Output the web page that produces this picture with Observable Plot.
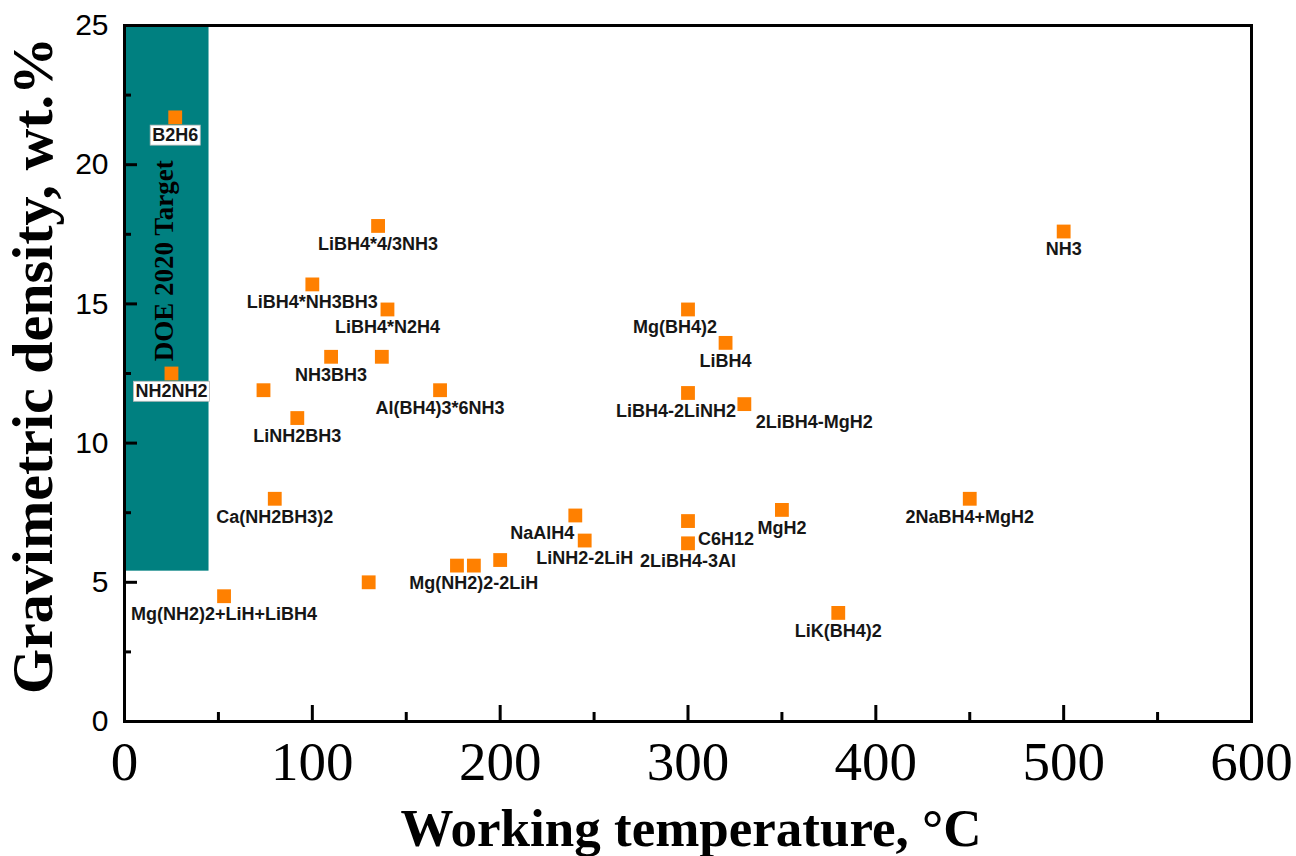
<!DOCTYPE html>
<html>
<head>
<meta charset="utf-8">
<script src="https://cdn.jsdelivr.net/npm/d3@7"></script>
<script src="https://cdn.jsdelivr.net/npm/@observablehq/plot@0.6"></script>
<style>
  html, body { margin: 0; padding: 0; background: #fff; }
  #chart svg { display: block; }
</style>
</head>
<body>
<div id="chart"></div>
<script>
// ---- Data ----
const names = [
  "B2H6", "NH2NH2", "LiBH4*4/3NH3", "LiBH4*NH3BH3", "LiBH4*N2H4", "NH3BH3", "",
  "Al(BH4)3*6NH3", "", "LiNH2BH3", "Ca(NH2BH3)2", "Mg(NH2)2+LiH+LiBH4",
  "", "", "Mg(NH2)2-2LiH", "", "NaAlH4", "LiNH2-2LiH", "C6H12", "2LiBH4-3Al",
  "MgH2", "LiK(BH4)2", "2NaBH4+MgH2", "NH3", "Mg(BH4)2", "LiBH4",
  "LiBH4-2LiNH2", "2LiBH4-MgH2"
];
const temps = [
  27, 25, 135, 100, 140, 110, 137,
  168, 74, 92, 80, 53,
  130, 177, 186, 200, 240, 245, 300, 300,
  350, 380, 450, 500, 300, 320,
  300, 330
];
const densities = [
  21.7, 12.5, 17.8, 15.7, 14.8, 13.1, 13.1,
  11.9, 11.9, 10.9, 8.0, 4.5,
  5.0, 5.6, 5.6, 5.8, 7.4, 6.5, 7.2, 6.4,
  7.6, 3.9, 8.0, 17.6, 14.8, 13.6,
  11.8, 11.4
];
const boxedNames = ["B2H6", "NH2NH2"];

const xTicksMajor = [0, 100, 200, 300, 400, 500, 600];
const xTicksMinor = [50, 150, 250, 350, 450, 550];
const yTicksMajor = [0, 5, 10, 15, 20, 25];
const yTicksMinor = [2.5, 7.5, 12.5, 17.5, 22.5];

const doeTarget = [{tempMin: 0, tempMax: 45, densityMin: 5.4, densityMax: 25,
                    labelTemp: 21, labelDensity: 16.55, label: "DOE 2020 Target"}];

const xTitle = "Working temperature, °C";
const yTitle = "Gravimetric density, wt.%";

// ---- Layout / style (not data) ----
const labelShiftX = {"NaAlH4": -33, "C6H12": 38, "Mg(BH4)2": -13, "LiBH4-2LiNH2": -12, "2LiBH4-MgH2": 70};
const W = 1296, H = 856, mL = 124, mR = 45, mT = 25, mB = 135;
const innerW = W - mL - mR, innerH = H - mT - mB;
const serif = "Liberation Serif, Times New Roman, serif";
const sans = "Liberation Sans, Arial, sans-serif";

const points = names.map((n, i) => ({name: n, temp: temps[i], density: densities[i]}));

const labelMarks = points.filter(d => d.name).map(d =>
  Plot.text([d], {
    x: "temp", y: "density", text: "name",
    dx: labelShiftX[d.name] || 0, dy: 18,
    fontFamily: sans, fontWeight: "bold", fontSize: 18, fill: "#161616",
    textAnchor: "middle", lineAnchor: "middle"
  })
);

const svg = Plot.plot({
  width: W, height: H,
  marginLeft: mL, marginRight: mR, marginTop: mT, marginBottom: mB,
  x: {domain: [0, 600]},
  y: {domain: [0, 25]},
  style: {background: "white", overflow: "visible"},
  marks: [
    Plot.rect(doeTarget, {x1: "tempMin", x2: "tempMax", y1: "densityMin", y2: "densityMax", fill: "#008080"}),
    Plot.text(doeTarget, {x: "labelTemp", y: "labelDensity", text: "label", rotate: -90,
      fontFamily: serif, fontWeight: "bold", fontSize: 27, fill: "black",
      textAnchor: "middle", lineAnchor: "middle"}),
    Plot.dot(points, {x: "temp", y: "density", symbol: "square", r: 7.8, fill: "#ff8000", stroke: "none"}),
    ...labelMarks,
    Plot.tickX(xTicksMajor, {x: d => d, stroke: "black", strokeWidth: 3, insetTop: innerH - 16}),
    Plot.tickX(xTicksMinor, {x: d => d, stroke: "black", strokeWidth: 3, insetTop: innerH - 9}),
    Plot.tickY(yTicksMajor, {y: d => d, stroke: "black", strokeWidth: 3, insetRight: innerW - 13}),
    Plot.tickY(yTicksMinor, {y: d => d, stroke: "black", strokeWidth: 3, insetRight: innerW - 7}),
    Plot.frame({stroke: "black", strokeWidth: 3}),
    Plot.axisX(xTicksMajor, {tickSize: 0, tickPadding: 19, fontSize: 55, fontFamily: serif, fill: "black", label: null}),
    Plot.axisY(yTicksMajor, {tickSize: 0, tickPadding: 16, fontSize: 30, fontFamily: sans, fill: "black", label: null}),
    Plot.text([xTitle], {frameAnchor: "bottom", text: d => d, dx: 3, dy: 108,
      fontFamily: serif, fontWeight: "bold", fontSize: 53, fill: "black",
      textAnchor: "middle", lineAnchor: "middle"}),
    Plot.text([yTitle], {frameAnchor: "left", text: d => d, rotate: -90, dx: -91, dy: -8,
      fontFamily: serif, fontWeight: "bold", fontSize: 58, fill: "black",
      textAnchor: "middle", lineAnchor: "middle"})
  ]
});

document.getElementById("chart").appendChild(svg);

// white boxes behind the two labels sitting on the teal band
d3.select(svg).selectAll("text").each(function() {
  const t = this.textContent;
  if (boxedNames.includes(t) && this.closest("g") && this.getAttribute("font-size") !== "55") {
    const bb = this.getBBox();
    const rect = document.createElementNS("http://www.w3.org/2000/svg", "rect");
    rect.setAttribute("x", bb.x - 2);
    rect.setAttribute("y", bb.y);
    rect.setAttribute("width", bb.width + 4);
    rect.setAttribute("height", bb.height);
    rect.setAttribute("fill", "white");
    rect.setAttribute("stroke", "#bbbbbb");
    rect.setAttribute("stroke-width", "0.8");
    const tr = this.getAttribute("transform");
    if (tr) rect.setAttribute("transform", tr);
    this.parentNode.insertBefore(rect, this);
  }
});
</script>
</body>
</html>
